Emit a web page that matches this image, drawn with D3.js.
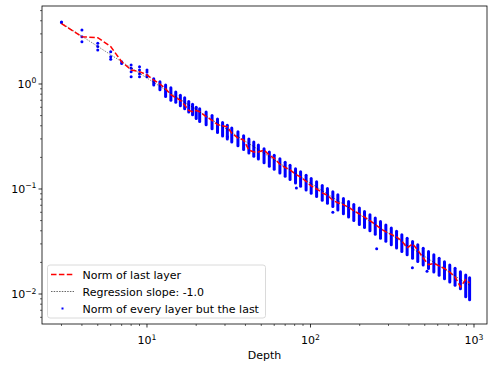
<!DOCTYPE html>
<html><head><meta charset="utf-8">
<script src="https://cdn.jsdelivr.net/npm/d3@7"></script>
<style>
html,body{margin:0;padding:0;background:#fff;}
text{font-family:"DejaVu Sans",sans-serif;fill:#000;}
</style></head>
<body><svg id="chart" width="488" height="365"></svg>
<script>
// ---- data ----
const depths = [3,4,5,6,7,8,9,10,11,12,13,14,15,16,17,18,19,20,21,23,25,27,29,31,33,36,39,42,45,48,52,56,60,65,70,75,81,87,94,101,109,118,127,137,147,159,171,184,199,214,231,249,268,289,312,336,362,390,421,453,489,527,568,612,660,711,766,826,890,940];
const lastNorm = [3.75,2.82,2.76,2.27,1.63,1.36,1.31,1.22,1.09,1.0,0.9,0.79,0.74,0.70,0.63,0.56,0.545,0.56,0.545,0.49,0.45,0.41,0.40,0.39,0.34,0.305,0.293,0.235,0.225,0.225,0.235,0.21,0.196,0.172,0.16,0.152,0.138,0.13,0.118,0.107,0.100,0.092,0.087,0.078,0.074,0.071,0.067,0.062,0.058,0.054,0.050,0.046,0.042,0.039,0.037,0.035,0.032,0.0275,0.030,0.0262,0.022,0.019,0.0196,0.0185,0.0175,0.0162,0.0145,0.0117,0.0137,0.0127];
// spread of the "every layer but the last" norms per depth (columns of dense points)
const colDepths = [11,12,13,14,15,16,17,18,19,20,21,23,25,27,29,31,33,36,39,42,45,48,52,56,60,65,70,75,81,87,94,101,109,118,127,137,147,159,171,184,199,214,231,249,268,289,312,336,362,390,421,453,489,527,568,612,660,711,766,826,890,940];
const colHi = [1.12,1.05,0.98,0.92,0.84,0.78,0.74,0.68,0.64,0.60,0.58,0.54,0.50,0.465,0.43,0.405,0.38,0.35,0.322,0.30,0.28,0.262,0.242,0.225,0.21,0.194,0.18,0.168,0.156,0.146,0.135,0.126,0.117,0.108,0.101,0.094,0.088,0.081,0.076,0.071,0.066,0.061,0.057,0.053,0.049,0.0455,0.0425,0.0395,0.0367,0.034,0.0316,0.0294,0.0273,0.0254,0.0236,0.0219,0.0203,0.0189,0.0176,0.0163,0.0152,0.0143];
const colLo = [0.98,0.88,0.76,0.70,0.67,0.62,0.58,0.54,0.51,0.47,0.44,0.41,0.375,0.345,0.32,0.30,0.28,0.258,0.238,0.22,0.205,0.193,0.178,0.165,0.154,0.142,0.132,0.123,0.114,0.106,0.098,0.091,0.085,0.078,0.073,0.068,0.063,0.058,0.054,0.050,0.046,0.043,0.040,0.037,0.034,0.0318,0.0295,0.0274,0.0254,0.0236,0.0219,0.0204,0.0189,0.0175,0.0162,0.0151,0.014,0.013,0.0121,0.0112,0.0094,0.0088];
// individual points (small depths and outliers)
const ptDepths = [3,3,4,4,4,5,5,5,6,6,6,7,7,8,8,8,8,9,9,9,9,10,10,10,10,31,82,137,254,420,516];
const ptValues = [3.9,3.85,3.27,2.82,2.53,2.44,2.27,2.11,2.03,1.82,1.72,1.63,1.57,1.52,1.41,1.31,1.17,1.46,1.36,1.25,1.17,1.36,1.3,1.22,1.17,0.315,0.102,0.060,0.027,0.0178,0.0165];
// regression line endpoints (slope -1.0)
const regDepths = [3,940];
const regValues = [3.8,0.0121];
const xMajor = [10,100,1000], xMajorExp = ["1","2","3"];
const yMajor = [0.01,0.1,1], yMajorExp = ["\u22122","\u22121","0"];
const xMinor = [3,4,5,6,7,8,9,20,30,40,50,60,70,80,90,200,300,400,500,600,700,800,900];
const yMinor = [0.006,0.007,0.008,0.009,0.02,0.03,0.04,0.05,0.06,0.07,0.08,0.09,0.2,0.3,0.4,0.5,0.6,0.7,0.8,0.9,2,3,4,5];
const legendLabels = ["Norm of last layer","Regression slope: -1.0","Norm of every layer but the last"];

// ---- chart ----
const svg = d3.select("#chart");
const L=42, R=487, T=6, B=324;
const x = d3.scaleLog().domain([2.28,1201]).range([L,R]);
const y = d3.scaleLog().domain([0.00518,5.53]).range([B,T]);
const blue="#0000ff", red="#ff0000";
const FS = 11;

const g = svg.append("g");
// columns
g.selectAll("line.col").data(colDepths).join("line")
  .attr("x1",d=>x(d)).attr("x2",d=>x(d))
  .attr("y1",(d,i)=>y(colHi[i])).attr("y2",(d,i)=>y(colLo[i]))
  .attr("stroke",blue).attr("stroke-width",3).attr("stroke-linecap","round");
// points
g.selectAll("circle.pt").data(ptDepths).join("circle")
  .attr("cx",d=>x(d)).attr("cy",(d,i)=>y(ptValues[i])).attr("r",1.5).attr("fill",blue);
// regression
g.append("path").datum(regDepths)
  .attr("d",d3.line().x(d=>x(d)).y((d,i)=>y(regValues[i])))
  .attr("fill","none").attr("stroke","#000").attr("stroke-width",0.6).attr("stroke-dasharray","1.5,1.2").attr("opacity",0.8);
// last layer
g.append("path").datum(depths)
  .attr("d",d3.line().x(d=>x(d)).y((d,i)=>y(lastNorm[i])))
  .attr("fill","none").attr("stroke",red).attr("stroke-width",1.5).attr("stroke-dasharray","5.5,2.4");

// frame
svg.append("rect").attr("x",L).attr("y",T).attr("width",R-L).attr("height",B-T)
  .attr("fill","none").attr("stroke","#000").attr("stroke-width",0.8);

// ticks
const ax = svg.append("g");
ax.selectAll("line.xM").data(xMajor).join("line").attr("x1",d=>x(d)).attr("x2",d=>x(d)).attr("y1",B).attr("y2",B+3.5).attr("stroke","#000").attr("stroke-width",0.8);
ax.selectAll("line.xm").data(xMinor).join("line").attr("x1",d=>x(d)).attr("x2",d=>x(d)).attr("y1",B).attr("y2",B+2).attr("stroke","#000").attr("stroke-width",0.6);
ax.selectAll("line.yM").data(yMajor).join("line").attr("y1",d=>y(d)).attr("y2",d=>y(d)).attr("x1",L).attr("x2",L-3.5).attr("stroke","#000").attr("stroke-width",0.8);
ax.selectAll("line.ym").data(yMinor).join("line").attr("y1",d=>y(d)).attr("y2",d=>y(d)).attr("x1",L).attr("x2",L-2).attr("stroke","#000").attr("stroke-width",0.6);

xMajor.forEach((v,i)=>{
  const t = ax.append("text").attr("x",x(v)).attr("y",B+20).attr("text-anchor","middle").attr("font-size",FS);
  t.append("tspan").text("10");
  t.append("tspan").attr("dy",-4.5).attr("font-size",7.7).text(xMajorExp[i]);
});
yMajor.forEach((v,i)=>{
  const t = ax.append("text").attr("x",L-5.5).attr("y",y(v)+4).attr("text-anchor","end").attr("font-size",FS);
  t.append("tspan").text("10");
  t.append("tspan").attr("dy",-4.5).attr("font-size",7.7).text(yMajorExp[i]);
});
svg.append("text").attr("x",(L+R)/2).attr("y",359).attr("text-anchor","middle").attr("font-size",FS).text("Depth");

// legend
const lg = svg.append("g");
lg.append("rect").attr("x",47.5).attr("y",265).attr("width",218).attr("height",53).attr("rx",2.5)
  .attr("fill","#fff").attr("fill-opacity",0.8).attr("stroke","#d0d0d0").attr("stroke-width",0.8);
const rows=[274.5,291.5,308.5];
lg.append("line").attr("x1",51).attr("x2",74).attr("y1",rows[0]).attr("y2",rows[0]).attr("stroke",red).attr("stroke-width",1.5).attr("stroke-dasharray","5.5,2.4");
lg.append("line").attr("x1",51).attr("x2",74).attr("y1",rows[1]).attr("y2",rows[1]).attr("stroke","#000").attr("stroke-width",0.6).attr("stroke-dasharray","1.5,1.2");
lg.append("rect").attr("x",61.5).attr("y",rows[2]-1).attr("width",2).attr("height",2).attr("fill",blue);
lg.selectAll("text").data(legendLabels).join("text").attr("x",82.5).attr("y",(d,i)=>rows[i]+4).attr("font-size",FS).text(d=>d);
</script></body></html>
